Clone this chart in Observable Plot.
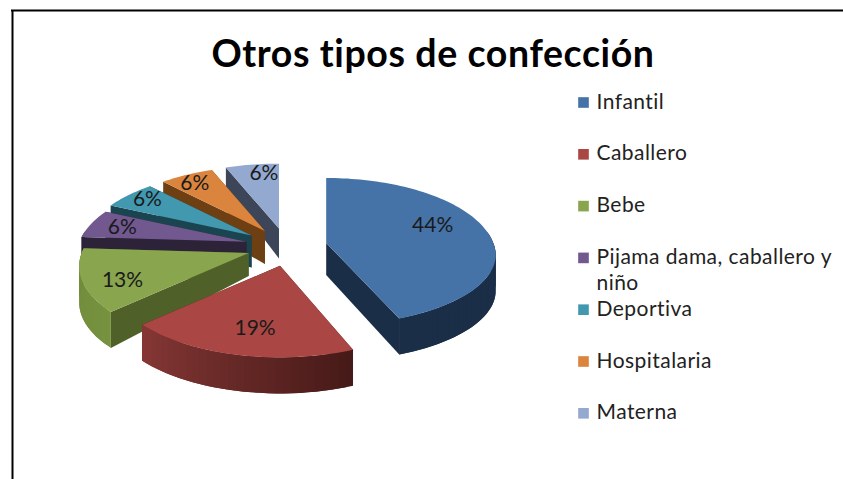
<!DOCTYPE html>
<html>
<head>
<meta charset="utf-8">
<script src="https://cdn.jsdelivr.net/npm/d3@7"></script>
<script src="https://cdn.jsdelivr.net/npm/@observablehq/plot@0.6"></script>
<style>html,body{margin:0;padding:0;background:#fff}svg{display:block}</style>
</head>
<body>
<div id="chart"></div>
<script>
const categories = ["Infantil","Caballero","Bebe","Pijama dama, caballero y\nniño","Deportiva","Hospitalaria","Materna"];
const shares = [44,19,13,6,6,6,6];
const titleText = "Otros tipos de confección";
const topColors = ["#4572A7","#AA4643","#89A54E","#71588F","#4198AF","#DB843D","#93A9CF"];
const cutColors = ["#1b2e47","#4a1b1a","#4f6129","#2d2339","#1a4450","#6e3f13","#3c4658"];
const rimStart  = ["#1b2e47","#451a18","#76923f","#2d2339","#1a4450","#6e3f13","#3c4658"];
const rimEnd    = ["#1b2e47","#863735","#6f8b3c","#2d2339","#1a4450","#6e3f13","#3c4658"];
const apexDepth = [32,30,23,20,32,33,30];
const labelRadius = [0.65,0.68,0.75,0.78,0.87,0.87,0.8];
const labelShiftX = [2,3,-3,-2,4,-1,7];
const labelShiftY = [-9,6,7,0,-1,2,-3];
const sliceShiftX = [-1,3,2,0,-2,0,0];
const frontSquash = [0.9,1,1,1,1,1,1];

// pie geometry (perspective-tilted ellipse)
const cx = 286, cy = 246, rx = 167, ry = 76, persp = 0.17, explode = 0.25;
const offset = (r, t, squash = 1) => {
  const c = Math.cos(t);
  const s = 1 / (1 + persp * c * Math.min(r, 1));
  return [rx * r * Math.sin(t) * s, -ry * r * c * s * (c < 0 ? squash : 1)];
};
const rimDepth = t => Math.cos(t) > 0 ? 36 - 16 * Math.cos(t) : 36;

const total = d3.sum(shares);
let acc = 0;
const slices = shares.map((v, i) => {
  const t0 = acc / total * 2 * Math.PI; acc += v;
  const t1 = acc / total * 2 * Math.PI;
  const tm = (t0 + t1) / 2;
  const [ox, oy] = offset(explode, tm);
  return {i, v, t0, t1, tm, ax: cx + ox + sliceShiftX[i], ay: cy + oy};
});

const polys = [];
let pid = 0;
function addPoly(points, color) {
  const id = pid++;
  for (const [x, y] of points) polys.push({id, x, y, color});
}
const order = [6,5,4,3,2,1,0];
for (const k of order) {
  const s = slices[k];
  const rim = t => { const [x, y] = offset(1, t, frontSquash[k]); return [s.ax + x, s.ay + y]; };
  const d0 = apexDepth[k];
  // cut faces
  for (const t of [s.t1, s.t0]) {
    const [rxp, ryp] = rim(t);
    addPoly([[s.ax, s.ay],[rxp, ryp],[rxp, ryp + rimDepth(t)],[s.ax, s.ay + d0]], cutColors[k]);
  }
  // rim wall split into shaded strips, each overlapping the next so no seams show
  const n = Math.max(2, Math.ceil((s.t1 - s.t0) / 0.04));
  const shade = d3.interpolateRgb(rimStart[k], rimEnd[k]);
  const at = j => s.t0 + (s.t1 - s.t0) * Math.min(j, n) / n;
  for (let j = 0; j < n; j++) {
    const a = at(j), b = at(j + 2);
    if (Math.cos(a) > 0.1 && Math.cos(b) > 0.1) continue;
    const strip = [];
    const lo = [];
    for (const t of [a, at(j + 1), b]) {
      const p = rim(t);
      strip.push(p);
      lo.unshift([p[0], p[1] + rimDepth(t)]);
    }
    addPoly(strip.concat(lo), shade((j + 0.5) / n));
  }
  // top face
  const top = [[s.ax, s.ay]];
  const m = Math.ceil((s.t1 - s.t0) / 0.03);
  for (let j = 0; j <= m; j++) top.push(rim(s.t0 + (s.t1 - s.t0) * j / m));
  addPoly(top, topColors[k]);
}

const pctLabels = slices.map(s => {
  const [x, y] = offset(labelRadius[s.i], s.tm);
  return {x: s.ax + x + labelShiftX[s.i], y: s.ay + y + labelShiftY[s.i], text: s.v + "%"};
});

const legendX = 577.5, legendTop = 102, legendStep = 51.8;
const legend = categories.map((c, i) => ({name: c, color: topColors[i], y: legendTop + i * legendStep}));

const plot = Plot.plot({
  width: 843, height: 479,
  marginTop: 0, marginRight: 0, marginBottom: 0, marginLeft: 0,
  x: {domain: [0, 843], range: [0, 843], axis: null},
  y: {domain: [0, 479], range: [0, 479], axis: null},
  color: {type: "identity"},
  marks: [
    Plot.ruleY([10], {x1: 11, x2: 843, stroke: "#000", strokeWidth: 2}),
    Plot.ruleX([12], {y1: 10, y2: 479, stroke: "#000", strokeWidth: 2}),
    Plot.text([titleText], {x: 432.5, y: 54, text: d => d, fontFamily: "Lato", fontSize: 37.5, fontWeight: 700, fill: "#000"}),
    Plot.line(polys, {x: "x", y: "y", z: "id", fill: "color", curve: "linear"}),
    Plot.text(pctLabels, {x: "x", y: "y", text: "text", fontFamily: "Lato", fontSize: 21, fill: "#1a1a1a"}),
    Plot.dot(legend, {x: legendX + 5.5, y: "y", symbol: "square", r: 6, fill: "color", stroke: null}),
    Plot.text(legend, {x: legendX + 18.5, y: d => d.y - 12.5, text: "name", textAnchor: "start", lineAnchor: "top", lineHeight: 1.24, fontFamily: "Lato", fontSize: 21, fill: "#222"})
  ]
});
plot.querySelectorAll("text").forEach(t => {
  const c = t.textContent;
  if (c === titleText) t.setAttribute("letter-spacing", "0.6");
  else if (!c.endsWith("%")) t.setAttribute("letter-spacing", "0.45");
});
document.getElementById("chart").appendChild(plot);
</script>
</body>
</html>
